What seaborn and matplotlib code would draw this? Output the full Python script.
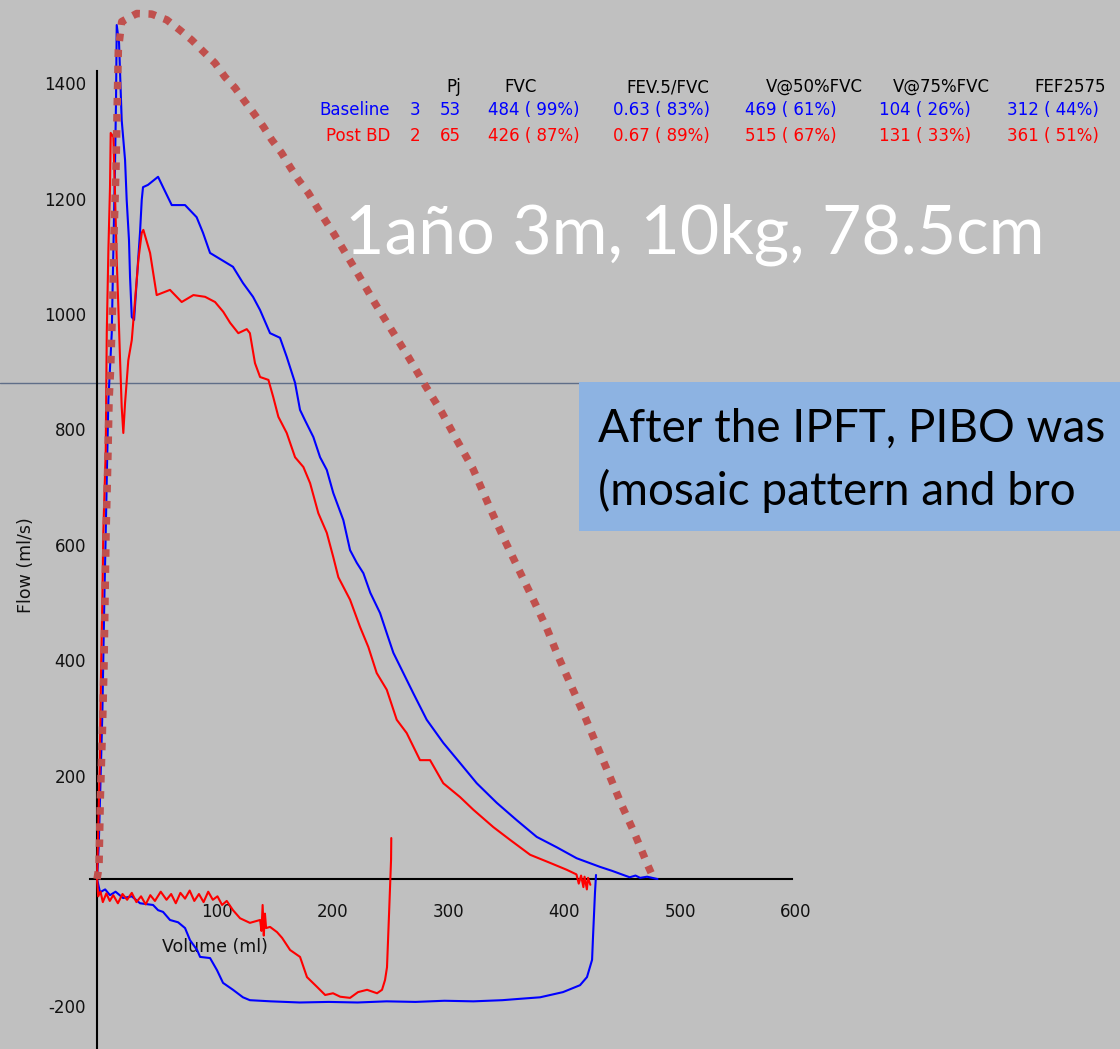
import numpy as np
import pandas as pd
import matplotlib
matplotlib.use("Agg")
import matplotlib.pyplot as plt
import seaborn as sns
from matplotlib.lines import Line2D
from matplotlib.patches import Rectangle
from matplotlib.transforms import ScaledTranslation

# ---- Flow-volume loops (volume in ml, flow in ml/s) ----
baseline_exp_vol = [0, 1.5, 3.0, 4.6, 6.3, 7.5, 8.6, 9.8, 12.7, 14.1, 15.5, 16.4, 17.0, 19.0,
                    21.3, 24.2, 25.6, 27.6, 28.5, 30.0, 32.0, 34.3, 37.1, 38.6, 39.7, 44.0, 52.7,
                    57.0, 64.5, 76.0, 86.0, 91.5, 97.6, 103.4, 117.4, 126.0, 134.7, 140.8, 149.4,
                    158.0, 163.8, 171.0, 175.3, 179.6, 186.8, 192.6, 198.4, 204.0, 212.7, 218.5,
                    224.3, 230.0, 236.0, 244.4, 250.2, 255.9, 264.5, 273.1, 284.7, 299.0, 313.5,
                    327.9, 345.2, 362.4, 379.7, 397.0, 414.2, 434.4, 445.0, 454.5, 460.0, 465.0,
                    469.0, 475.0, 484.0]
baseline_exp_flow = [0, 60, 170, 288, 484, 600, 714, 830, 946, 1090, 1234, 1350, 1480, 1449,
                     1315, 1246, 1177, 1107, 1043, 974, 969, 1038, 1120, 1177, 1199, 1203, 1217,
                     1199, 1168, 1168, 1147, 1120, 1085, 1078, 1061, 1033, 1009, 986, 946,
                     938, 905, 860, 813, 795, 766, 731, 709, 669, 622, 570,
                     548, 530, 496, 461, 426, 392, 357, 322, 276, 236, 201,
                     166, 132, 102, 73, 55, 36, 21, 14, 7, 3, 6,
                     2, 4, 0]

baseline_insp_vol = [0, 2.6, 7.0, 11.2, 16.0, 22.5, 30.0, 37.1, 48.4, 52.7, 57.0, 63.0, 70.0,
                     76.0, 80.3, 86.4, 89.0, 97.6, 103.6, 108.8, 117.4, 126.0, 132.0, 150.0,
                     175.0, 200.0, 225.0, 250.0, 275.0, 300.0, 325.0, 350.0, 362.7, 382.6,
                     402.4, 417.1, 423.1, 427.5, 428.3, 430.0, 430.9]
baseline_insp_flow = [0, -23, -18, -28, -22, -33, -30, -42, -45, -54, -57, -71, -75,
                      -85, -106, -123, -135, -137, -158, -180, -192, -205, -210, -212,
                      -214, -213, -214, -212, -213, -211, -212, -210, -208, -205,
                      -196, -184, -170, -140, -101, -24, 7]

postbd_exp_vol = [0, 2.3, 3.5, 4.6, 5.4, 7.5, 8.4, 9.8, 11.2, 11.8, 14.1, 15.5, 17.0, 18.4,
                  19.9, 21.3, 22.7, 24.2, 27.0, 30.0, 32.8, 35.7, 38.6, 40.0, 45.8, 51.5,
                  63.0, 73.1, 83.2, 93.3, 101.9, 109.0, 114.9, 122.0, 129.3, 132.0, 136.4,
                  140.8, 148.0, 152.2, 156.6, 163.8, 171.0, 178.2, 184.0, 191.1, 198.4,
                  204.0, 208.4, 218.5, 227.1, 234.3, 241.5, 250.2, 258.8, 267.4, 278.9,
                  287.6, 299.0, 313.5, 325.0, 342.2, 356.6, 374.0, 391.2, 405.6, 414.0,
                  416.0, 418.0, 420.0, 421.0, 423.0, 424.0, 426.0]
postbd_exp_flow = [0, 194, 367, 484, 600, 743, 946, 1090, 1199, 1293, 1286, 1189, 1073, 991,
                   899, 818, 773, 825, 899, 934, 1003, 1073, 1120, 1125, 1085, 1012,
                   1021, 1000, 1012, 1009, 1000, 983, 964, 946, 953, 946, 894,
                   870, 865, 835, 801, 773, 731, 714, 686, 634, 600,
                   558, 523, 484, 437, 402, 357, 328, 276, 253, 206,
                   206, 166, 142, 120, 90, 68, 42, 28, 16, 8,
                   -8, 6, -14, 4, -18, 2, -10]

postbd_insp_vol = [0, 1, 3, 5, 8, 11, 14, 18, 22, 26, 30, 34, 38, 42, 46, 50, 55, 60, 64,
                   68, 72, 76, 80, 84, 88, 92, 96, 100, 104, 108, 112, 117.4, 123.5, 132.0,
                   140.8, 142.0, 143.0, 144.0, 145.0, 146.0, 149.4, 155.4, 159.8, 166.7,
                   175.3, 181.3, 190.0, 197.0, 203.8, 210.0, 218.5, 225.4, 233.2, 241.8,
                   246.1, 248.7, 250.4, 252.2, 253.9, 254.1]
postbd_insp_flow = [0, -30, -22, -40, -25, -38, -28, -42, -26, -36, -24, -40, -30, -44, -28,
                    -38, -22, -36, -26, -42, -24, -34, -20, -38, -26, -40, -22, -36, -30,
                    -45, -38, -54, -68, -76, -71, -90, -45, -98, -60, -85, -83, -92, -102,
                    -123, -135, -170, -187, -201, -198, -204, -206, -196, -192, -198,
                    -192, -175, -153, -59, 33, 71]

# Hand-drawn expected (normal) curve outline
expected_vol = [0, 1.7, 2.8, 4.6, 6.0, 6.9, 7.8, 9.2, 10.4, 11.8, 13.6, 14.7, 16.4, 17.5,
                18.4, 21.3, 34.3, 47.2, 60.2, 71.7, 81.8, 91.8, 101.9, 110.5, 119.2, 127.8,
                135.0, 143.6, 150.9, 159.5, 166.7, 173.8, 182.5, 189.7, 196.9, 204.0, 222.0,
                240.0, 254.5, 268.8, 283.2, 297.7, 310.6, 324.4, 340.0, 352.3, 364.5, 376.8,
                388.3, 398.4, 409.9, 421.4, 431.5, 442.4, 453.1, 464.0, 474.7, 480.4]
expected_flow = [0, 21, 137, 253, 367, 484, 600, 714, 830, 887, 1003, 1120, 1234, 1350,
                 1437, 1486, 1500, 1499, 1489, 1471, 1454, 1434, 1414, 1390, 1371, 1347,
                 1328, 1304, 1281, 1258, 1234, 1212, 1189, 1165, 1142, 1120, 1060,
                 998, 951, 905, 856, 809, 761, 712, 640, 586, 535, 484,
                 435, 385, 333, 281, 232, 180, 128, 80, 28, 2]

x_ticks = [100, 200, 300, 400, 500, 600]
y_ticks = [-200, 200, 400, 600, 800, 1000, 1200, 1400]

# ---- Results table ----
table_header = ["Pj", "FVC", "FEV.5/FVC", "V@50%FVC", "V@75%FVC", "FEF2575"]
baseline_row = ["Baseline", "3", "53", "484 ( 99%)", "0.63 ( 83%)", "469 ( 61%)",
                "104 ( 26%)", "312 ( 44%)"]
postbd_row = ["Post BD", "2", "65", "426 ( 87%)", "0.67 ( 89%)", "515 ( 67%)",
              "131 ( 33%)", "361 ( 51%)"]

patient_text = "1año 3m, 10kg, 78.5cm"
note_lines = ["After the IPFT, PIBO was", "(mosaic pattern and bro"]

# ---- Figure ----
W, H, DPI = 1120, 1049, 100
BG = "#c0c0c0"
sns.set_theme(style="white")
plt.rcParams["font.family"] = ["DejaVu Sans"]
plt.rcParams["axes.unicode_minus"] = False

fig = plt.figure(figsize=(W / DPI, H / DPI), dpi=DPI, facecolor=BG)
ax = fig.add_axes([0, 0, 1, 1])
ax.set_facecolor(BG)
ax.set_xlim(-83.8, 883.4)
ax.set_ylim(-294.6, 1523.4)


def fx(px):
    return px / W


def fy(py):
    return 1 - py / H


# connector line and note box
ax.add_line(Line2D([0, fx(580)], [fy(383), fy(383)], transform=fig.transFigure,
                   color="#5f6e88", lw=1.0, zorder=1))
ax.add_patch(Rectangle((fx(579), fy(531)), fx(W - 579) + 0.01, (531 - 382) / H,
                       transform=fig.transFigure, facecolor="#8db3e2", edgecolor="none",
                       zorder=6))

loops = [
    (baseline_exp_vol, baseline_exp_flow, "#0000ff"),
    (baseline_insp_vol, baseline_insp_flow, "#0000ff"),
    (postbd_exp_vol, postbd_exp_flow, "#ff0000"),
    (postbd_insp_vol, postbd_insp_flow, "#ff0000"),
]
for vol, flow, col in loops:
    sns.lineplot(x=vol, y=flow, sort=False, estimator=None, color=col, lw=1.5, ax=ax,
                 zorder=3)

sns.lineplot(x=expected_vol, y=expected_flow, sort=False, estimator=None,
             color="#c0504d", lw=5.4, ax=ax, zorder=5)
dotted = ax.lines[-1]
dotted.set_linestyle((0, (1.0, 1.15)))
dotted.set_dash_capstyle("butt")

# axes through the origin
for s in ["top", "right"]:
    ax.spines[s].set_visible(False)
for s in ["left", "bottom"]:
    ax.spines[s].set_position(("data", 0))
    ax.spines[s].set_color("black")
    ax.spines[s].set_linewidth(1.5)
    ax.spines[s].set_zorder(2)
ax.spines["left"].set_bounds(-294.6, 1400)
ax.spines["bottom"].set_bounds(-6, 600)

ax.set_xticks(x_ticks)
ax.set_yticks(y_ticks)
ax.tick_params(direction="inout", length=14.4, width=1.4, color="black",
               labelsize=12, labelcolor="#111111")
ax.tick_params(axis="x", pad=10.0)
ax.tick_params(axis="y", pad=0.8)
for lab in ax.get_xticklabels():
    lab.set_transform(lab.get_transform() + ScaledTranslation(0.04, 0, fig.dpi_scale_trans))
for lab in ax.get_yticklabels():
    lab.set_transform(lab.get_transform() + ScaledTranslation(0, -0.12, fig.dpi_scale_trans))

ax.set_xlabel("Volume (ml)", fontsize=12.5, color="#111111")
ax.xaxis.set_label_coords(102, -118, transform=ax.transData)
ax.xaxis.label.set_va("center")
ax.set_ylabel("Flow (ml/s)", fontsize=12.5, color="#111111")
ax.yaxis.set_label_coords(-61, 544, transform=ax.transData)
ax.yaxis.label.set_va("center")
ax.yaxis.label.set_ha("center")

# results table
tfs = 12
header_x = [446, 504, 626, 766, 893, 1034]
for txt, x in zip(table_header, header_x):
    ax.text(fx(x), fy(87), txt, transform=fig.transFigure, fontsize=tfs, color="black",
            ha="left", va="center", zorder=7)
cell_x = [390, 420, 440, 488, 613, 745, 879, 1007]
for row, col, y in [(baseline_row, "#0000ff", 110), (postbd_row, "#ff0000", 136)]:
    for i, (txt, x) in enumerate(zip(row, cell_x)):
        ax.text(fx(x), fy(y), txt, transform=fig.transFigure, fontsize=tfs, color=col,
                ha="right" if i < 2 else "left", va="center", zorder=7)

# annotations
ax.text(fx(345), fy(253), patient_text, transform=fig.transFigure, fontsize=49,
        color="white", family=["Lato", "DejaVu Sans"], ha="left", va="baseline", zorder=7)
for txt, yb in zip(note_lines, [442, 505]):
    ax.text(fx(598), fy(yb), txt, transform=fig.transFigure, fontsize=33, color="black",
            family=["Lato", "DejaVu Sans"], ha="left", va="baseline", zorder=7)

fig.savefig("out.png", dpi=DPI, facecolor=BG)
